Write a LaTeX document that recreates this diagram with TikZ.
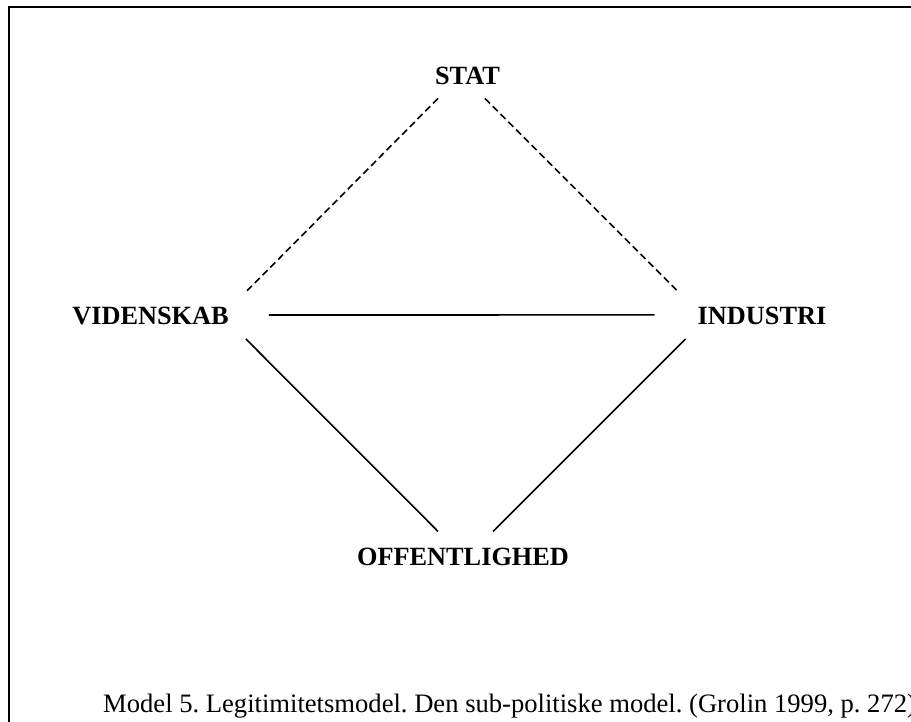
\documentclass[tikz,border=0pt]{standalone}
\usepackage{fontspec}
\setmainfont{Liberation Serif}
\usetikzlibrary{calc}

\begin{document}
\frenchspacing
\begin{tikzpicture}[x=1pt, y=-1pt]
\useasboundingbox (0,0) rectangle (911,722);
% frame, only top and left edges are visible
\draw[line width=1.8pt] (9,722) -- (9,7) -- (911,7);

\begin{scope}[
    every node/.style={inner sep=0pt, anchor=base, font=\fontsize{26.3}{30}\selectfont\bfseries}]
    \node (stat) at (467.5, 85) {STAT};

    \node (vid) at (150.5, 325) {VIDENSKAB};

    \node (ind) at (762, 325) {INDUSTRI};

    \node (off) at (463, 565) {OFFENTLIGHED};
\end{scope}

\begin{scope}[every path/.style={line width=1.6pt}]
    \draw [dash pattern=on 7pt off 4pt] ([shift={(-29.5,13)}]stat.south) -- ([shift={(17,-24.5)}]vid.east);
    \draw [dash pattern=on 7pt off 4pt] ([shift={(17.5,13)}]stat.south) -- ([shift={(-19,-24.5)}]ind.west);
    \draw ([shift={(40,-1.5)}]vid.east) -- ([shift={(-43,-1.5)}]ind.west);
    \draw ([shift={(17,22.5)}]vid.east) -- ([shift={(-25,-16)}]off.north);
    \draw ([shift={(-12,22.5)}]ind.west) -- ([shift={(30,-16)}]off.north);
\end{scope}

\node (caption) [anchor=base west, inner sep=0pt, font=\fontsize{26.6}{30}\selectfont] at (103, 712)
    {Model 5. Legitimitetsmodel. Den sub-politiske model. (Grolin 1999, p. 272)};
\end{tikzpicture}
\end{document}
